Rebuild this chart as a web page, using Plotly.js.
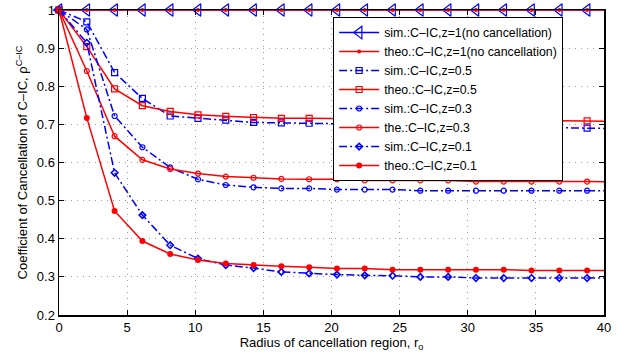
<!DOCTYPE html>
<html>
<head>
<meta charset="utf-8">
<script src="https://cdn.plot.ly/plotly-3.0.1.min.js"></script>
<style>html,body{margin:0;padding:0;background:#fff;}</style>
</head>
<body>
<div id="chart" style="width:624px;height:358px;"></div>
<script>
// Radius of cancellation region (last point lies just beyond the axis limit)
const radius = [0, 2.04, 4.08, 6.12, 8.16, 10.2, 12.24, 14.28, 16.32, 18.36, 20.4, 22.44, 24.48, 26.52, 28.56, 30.6, 32.64, 34.68, 36.72, 38.76, 40.8];

const simZ1   = [1, 1, 1, 1, 1, 1, 1, 1, 1, 1, 1, 1, 1, 1, 1, 1, 1, 1, 1, 1, 1];
const theoZ1  = [1, 1, 1, 1, 1, 1, 1, 1, 1, 1, 1, 1, 1, 1, 1, 1, 1, 1, 1, 1, 1];
const simZ05  = [1, 0.969, 0.836, 0.768, 0.722, 0.716, 0.711, 0.705, 0.704, 0.703, 0.702, 0.701, 0.700, 0.698, 0.697, 0.695, 0.694, 0.693, 0.691, 0.690, 0.689];
const theoZ05 = [1, 0.904, 0.793, 0.749, 0.734, 0.725, 0.721, 0.718, 0.716, 0.716, 0.715, 0.714, 0.713, 0.712, 0.712, 0.711, 0.710, 0.710, 0.709, 0.709, 0.708];
const simZ03  = [1, 0.949, 0.722, 0.640, 0.587, 0.556, 0.541, 0.535, 0.532, 0.532, 0.529, 0.529, 0.529, 0.526, 0.526, 0.526, 0.526, 0.526, 0.526, 0.526, 0.526];
const theoZ03 = [1, 0.840, 0.669, 0.607, 0.583, 0.571, 0.563, 0.560, 0.557, 0.556, 0.556, 0.553, 0.553, 0.553, 0.553, 0.550, 0.550, 0.550, 0.550, 0.550, 0.549];
const simZ01  = [1, 0.914, 0.573, 0.462, 0.383, 0.348, 0.331, 0.323, 0.313, 0.309, 0.306, 0.304, 0.303, 0.300, 0.300, 0.297, 0.297, 0.297, 0.297, 0.297, 0.297];
const theoZ01 = [1, 0.717, 0.473, 0.394, 0.360, 0.344, 0.335, 0.331, 0.328, 0.325, 0.322, 0.322, 0.319, 0.319, 0.319, 0.319, 0.319, 0.317, 0.317, 0.317, 0.316];

const seriesNames = [
  'sim.:C\u2013IC,z=1(no cancellation)',
  'theo.:C\u2013IC,z=1(no cancellation)',
  'sim.:C\u2013IC,z=0.5',
  'theo.:C\u2013IC,z=0.5',
  'sim.:C\u2013IC,z=0.3',
  'the.:C\u2013IC,z=0.3',
  'sim.:C\u2013IC,z=0.1',
  'theo.:C\u2013IC,z=0.1'
];

const xTicks = [0, 5, 10, 15, 20, 25, 30, 35, 40];
const yTicks = [0.2, 0.3, 0.4, 0.5, 0.6, 0.7, 0.8, 0.9, 1];
const yTickLabels = ['0.2', '0.3', '0.4', '0.5', '0.6', '0.7', '0.8', '0.9', '1'];

const BLUE = '#0000ff', RED = '#ff0000';
const DASHDOT = '8px,3px,2px,3px';

const styles = [
  {color: BLUE, dash: 'solid', symbol: 'triangle-left-open', size: 11, mlw: 1.2},
  {color: RED,  dash: 'solid', symbol: 'circle', size: 4, mlw: 0},
  {color: BLUE, dash: DASHDOT, symbol: 'square-open', size: 6, mlw: 1.2},
  {color: RED,  dash: 'solid', symbol: 'square-open', size: 6, mlw: 1.2},
  {color: BLUE, dash: DASHDOT, symbol: 'circle-open', size: 5, mlw: 1.2},
  {color: RED,  dash: 'solid', symbol: 'circle-open', size: 5, mlw: 1.2},
  {color: BLUE, dash: DASHDOT, symbol: 'diamond-open', size: 5, mlw: 1.6},
  {color: RED,  dash: 'solid', symbol: 'circle', size: 6, mlw: 0}
];
const allSeries = [simZ1, theoZ1, simZ05, theoZ05, simZ03, theoZ03, simZ01, theoZ01];

const n = radius.length;
const traces = [];
allSeries.forEach((ys, i) => {
  const s = styles[i];
  // visible part (markers not clipped, as in the original)
  traces.push({
    x: radius.slice(0, n - 1), y: ys.slice(0, n - 1),
    name: seriesNames[i], type: 'scatter', mode: 'lines+markers',
    cliponaxis: false,
    line: {color: s.color, width: 1.5, dash: s.dash},
    marker: {symbol: s.symbol, size: s.size, color: s.color, line: {color: s.color, width: s.mlw}}
  });
  // tail segment running past the right axis limit (clipped)
  traces.push({
    x: radius.slice(n - 2), y: ys.slice(n - 2),
    type: 'scatter', mode: 'lines', showlegend: false, hoverinfo: 'skip',
    cliponaxis: true,
    line: {color: s.color, width: 1.5, dash: s.dash}
  });
});

const FONT = 'Liberation Sans, Arial, sans-serif';
const layout = {
  width: 624, height: 358,
  margin: {l: 59, r: 20, t: 10, b: 43, pad: 0},
  paper_bgcolor: '#ffffff', plot_bgcolor: '#ffffff',
  font: {family: FONT, size: 13, color: '#000'},
  showlegend: true,
  xaxis: {
    range: [0, 40], tickvals: xTicks, ticktext: xTicks.map(String),
    ticks: 'inside', ticklen: 5, tickcolor: '#000', tickwidth: 1,
    showline: true, linecolor: '#000', linewidth: 1.5, mirror: 'ticks',
    showgrid: true, gridcolor: '#9a9a9a', griddash: '1px,5px', gridwidth: 1,
    zeroline: false, tickfont: {size: 13},
    title: {text: 'Radius of cancellation region, r<sub>o</sub>', font: {size: 13}, standoff: 4}
  },
  yaxis: {
    range: [0.2, 1], tickvals: yTicks, ticktext: yTickLabels,
    ticks: 'inside', ticklen: 5, tickcolor: '#000', tickwidth: 1,
    showline: true, linecolor: '#000', linewidth: 1.5, mirror: 'ticks',
    showgrid: true, gridcolor: '#9a9a9a', griddash: '1px,5px', gridwidth: 1,
    zeroline: false, tickfont: {size: 13},
    title: {text: 'Coefficient of Cancellation of C\u2013IC, \u03c1<sup>C\u2013IC</sup>', font: {size: 13}, standoff: 6}
  },
  legend: {
    x: 0.503, y: 0.977, xanchor: 'left', yanchor: 'top',
    bgcolor: '#ffffff', bordercolor: '#000', borderwidth: 1,
    font: {family: FONT, size: 12.3, color: '#000'},
    itemwidth: 40, tracegroupgap: 0
  }
};

Plotly.newPlot('chart', traces, layout, {displayModeBar: false, staticPlot: true});
</script>
</body>
</html>
